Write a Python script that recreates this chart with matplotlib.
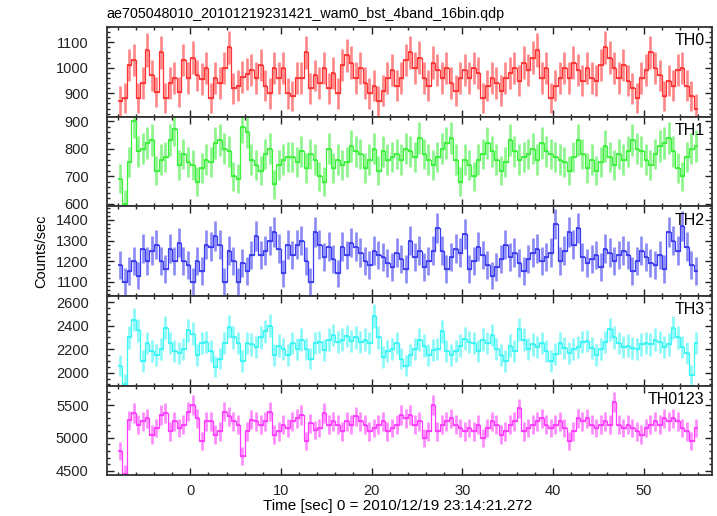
#!/usr/bin/env python3
# -*- coding: utf-8 -*-
# WAM burst light curves (4 bands + sum), QDP-style stacked panels

import numpy as np
import matplotlib
matplotlib.use("Agg")
import matplotlib.pyplot as plt
from matplotlib.ticker import MultipleLocator

plt.rcParams["font.family"] = ["Liberation Sans", "DejaVu Sans"]

# ============================================================
# Data (count rates, 0.5 s bins starting at t = -8 s)
# ============================================================
bin_width = 0.5
t_start = -8.0

th0 = [870, 880, 1010, 1030, 880, 940, 1070, 970, 905, 1060, 880, 940, 960, 905, 1030, 960,
       1040, 970, 955, 1000, 880, 960, 940, 1000, 1080, 920, 930, 965, 975, 990, 960, 1010,
       930, 900, 1000, 960, 1000, 900, 890, 960, 960, 1060, 920, 970, 940, 1000, 920, 980,
       900, 1010, 1050, 1020, 960, 1000, 940, 900, 930, 870, 910, 960, 990, 930, 960, 1030,
       1060, 1000, 1040, 960, 930, 1020, 990, 960, 1000, 940, 910, 960, 990, 960, 1000, 980,
       880, 930, 960, 940, 910, 960, 980, 1000, 950, 1020, 990, 1040, 1070, 960, 1000, 880,
       930, 960, 1000, 960, 1020, 990, 950, 1000, 960, 950, 1010, 1080, 1040, 1000, 960, 1010,
       950, 920, 880, 960, 990, 1060, 1000, 970, 890, 950, 930, 990, 1000, 930, 890, 840]

th1 = [690, 600, 750, 900, 790, 800, 820, 830, 720, 760, 770, 830, 870, 740, 780, 750,
       740, 680, 730, 760, 750, 820, 830, 800, 790, 700, 690, 880, 860, 760, 740, 720,
       780, 800, 670, 740, 760, 770, 770, 750, 790, 730, 780, 760, 700, 680, 800, 730,
       760, 740, 750, 810, 790, 780, 730, 760, 800, 720, 790, 760, 770, 780, 760, 800,
       790, 770, 840, 780, 760, 740, 770, 800, 820, 840, 760, 680, 760, 740, 700, 760,
       780, 820, 790, 760, 720, 750, 830, 790, 760, 770, 780, 800, 760, 820, 790, 780,
       770, 760, 750, 720, 770, 830, 780, 730, 760, 720, 750, 810, 770, 740, 780, 760,
       790, 830, 800, 790, 760, 740, 780, 810, 820, 840, 790, 730, 700, 770, 800, 810]

th2 = [1180, 1100, 1150, 1200, 1130, 1260, 1200, 1250, 1280, 1200, 1160, 1260, 1200, 1290, 1200, 1180,
       1100, 1200, 1150, 1280, 1270, 1320, 1280, 1100, 1250, 1200, 1100, 1190, 1150, 1230, 1320, 1230,
       1250, 1300, 1340, 1260, 1140, 1280, 1230, 1280, 1300, 1200, 1100, 1340, 1280, 1220, 1270, 1210,
       1140, 1270, 1230, 1290, 1270, 1240, 1200, 1180, 1250, 1230, 1220, 1190, 1170, 1240, 1210, 1160,
       1300, 1220, 1250, 1170, 1200, 1250, 1360, 1250, 1160, 1220, 1260, 1240, 1330, 1160, 1200, 1270,
       1230, 1180, 1130, 1170, 1210, 1280, 1220, 1240, 1190, 1150, 1210, 1240, 1260, 1200, 1220, 1240,
       1380, 1200, 1250, 1340, 1280, 1360, 1220, 1190, 1210, 1230, 1170, 1260, 1240, 1200, 1230, 1250,
       1230, 1150, 1200, 1250, 1220, 1190, 1180, 1230, 1160, 1340, 1300, 1250, 1370, 1270, 1180, 1150]

th3 = [2060, 1900, 2300, 2450, 2360, 2100, 2250, 2180, 2150, 2200, 2380, 2250, 2180, 2170, 2200, 2360,
       2330, 2150, 2250, 2260, 2180, 2050, 2120, 2250, 2390, 2300, 2250, 2100, 2250, 2240, 2220, 2300,
       2350, 2400, 2150, 2230, 2200, 2150, 2250, 2200, 2280, 2200, 2120, 2250, 2260, 2190, 2280, 2320,
       2260, 2280, 2310, 2270, 2300, 2260, 2280, 2250, 2480, 2300, 2130, 2180, 2200, 2250, 2120, 2060,
       2150, 2200, 2280, 2230, 2150, 2190, 2200, 2350, 2180, 2150, 2180, 2230, 2290, 2260, 2250, 2180,
       2280, 2250, 2320, 2200, 2150, 2100, 2230, 2180, 2370, 2280, 2200, 2240, 2220, 2250, 2180, 2100,
       2160, 2250, 2210, 2170, 2200, 2220, 2260, 2270, 2210, 2150, 2200, 2260, 2370, 2300, 2250, 2220,
       2230, 2210, 2200, 2240, 2250, 2240, 2280, 2260, 2220, 2240, 2380, 2300, 2220, 2170, 1980, 2250]

th0123 = [4800, 4450, 5270, 5380, 5200, 5250, 5300, 5050, 5150, 5350, 5380, 5100, 5250, 5150, 5200, 5400,
          5500, 5300, 4950, 5250, 5250, 5050, 5100, 5400, 5330, 5250, 5200, 4720, 5100, 5280, 5250, 5200,
          5250, 5400, 5050, 5100, 5200, 5150, 5250, 5300, 5350, 4950, 5220, 5120, 5150, 5380, 5200, 5250,
          5200, 5100, 5250, 5200, 5330, 5250, 5200, 5100, 5150, 5200, 5250, 5100, 5150, 5200, 5350, 5300,
          5350, 5200, 5250, 5000, 5100, 5500, 5100, 5200, 5250, 5300, 5200, 5150, 5100, 5150, 5100, 5200,
          5000, 5150, 5250, 5200, 5050, 5100, 5200, 5250, 5450, 5100, 5150, 5200, 5250, 5300, 5200, 5150,
          5200, 5250, 5150, 4950, 5100, 5300, 5250, 5300, 5200, 5150, 5200, 5250, 5200, 5550, 5200, 5150,
          5200, 5150, 5100, 5050, 5150, 5200, 5250, 5200, 5300, 5250, 5300, 5250, 5150, 5100, 4950, 5150]

labels = ["TH0", "TH1", "TH2", "TH3", "TH0123"]
colors = ["#ff3535", "#3cf03c", "#3c3cf0", "#3cf5f5", "#ff3cff"]
ylims = [(808, 1160), (590, 916), (1030, 1466), (1888, 2651), (4427, 5794)]
major_steps = [100, 100, 100, 200, 500]
minor_steps = [20, 20, 20, 50, 100]

# ============================================================
# Figure layout (pixel-matched panels)
# ============================================================
fig = plt.figure(figsize=(7.17, 5.16), dpi=100)
left, width = 0.149, 0.8436
bottom, total_h = 0.0785, 0.8692
panel_h = total_h / 5

series = [th0, th1, th2, th3, th0123]
for i, (vals, lab, col) in enumerate(zip(series, labels, colors)):
    y = np.array(vals, dtype=float)
    t = t_start + bin_width * (np.arange(len(y)) + 0.5)
    # error bars drawn with 0.25 s Poisson statistics look
    err = np.sqrt(y * 0.25) / 0.25

    ax = fig.add_axes([left, bottom + (4 - i) * panel_h, width, panel_h])
    ax.vlines(t, y - err, y + err, color=col, alpha=0.6, lw=1.9)
    ax.step(t, y, where="mid", color=col, lw=0.9)
    ax.hlines(y, t - bin_width / 2, t + bin_width / 2, color=col, lw=1.3)

    ax.set_xlim(-9.2, 57.5)
    ax.set_ylim(*ylims[i])
    ax.xaxis.set_major_locator(MultipleLocator(10))
    ax.xaxis.set_minor_locator(MultipleLocator(2))
    ax.yaxis.set_major_locator(MultipleLocator(major_steps[i]))
    ax.yaxis.set_minor_locator(MultipleLocator(minor_steps[i]))
    ax.tick_params(which="both", direction="in", top=True, right=True,
                   labelsize=10.5, colors="#222222", width=1.0)
    ax.tick_params(which="major", length=5)
    ax.tick_params(which="minor", length=2.5)
    ax.tick_params(axis="y", pad=13)
    ax.tick_params(axis="x", pad=6)
    if i < 4:
        ax.tick_params(labelbottom=False)
    for sp in ax.spines.values():
        sp.set_linewidth(1.3)
        sp.set_color("#333333")

    ax.text(0.988, 0.93, lab, transform=ax.transAxes, ha="right", va="top",
            fontsize=11.5)

fig.text(0.149, 0.973, "ae705048010_20101219231421_wam0_bst_4band_16bin.qdp",
         ha="left", va="center", fontsize=10.3)
fig.text(0.058, 0.514, "Counts/sec", rotation=90, ha="center", va="center",
         fontsize=10.5)
fig.text(0.555, 0.019, "Time [sec] 0 = 2010/12/19 23:14:21.272",
         ha="center", va="center", fontsize=11)

plt.savefig("out.png", dpi=100)
plt.close(fig)
